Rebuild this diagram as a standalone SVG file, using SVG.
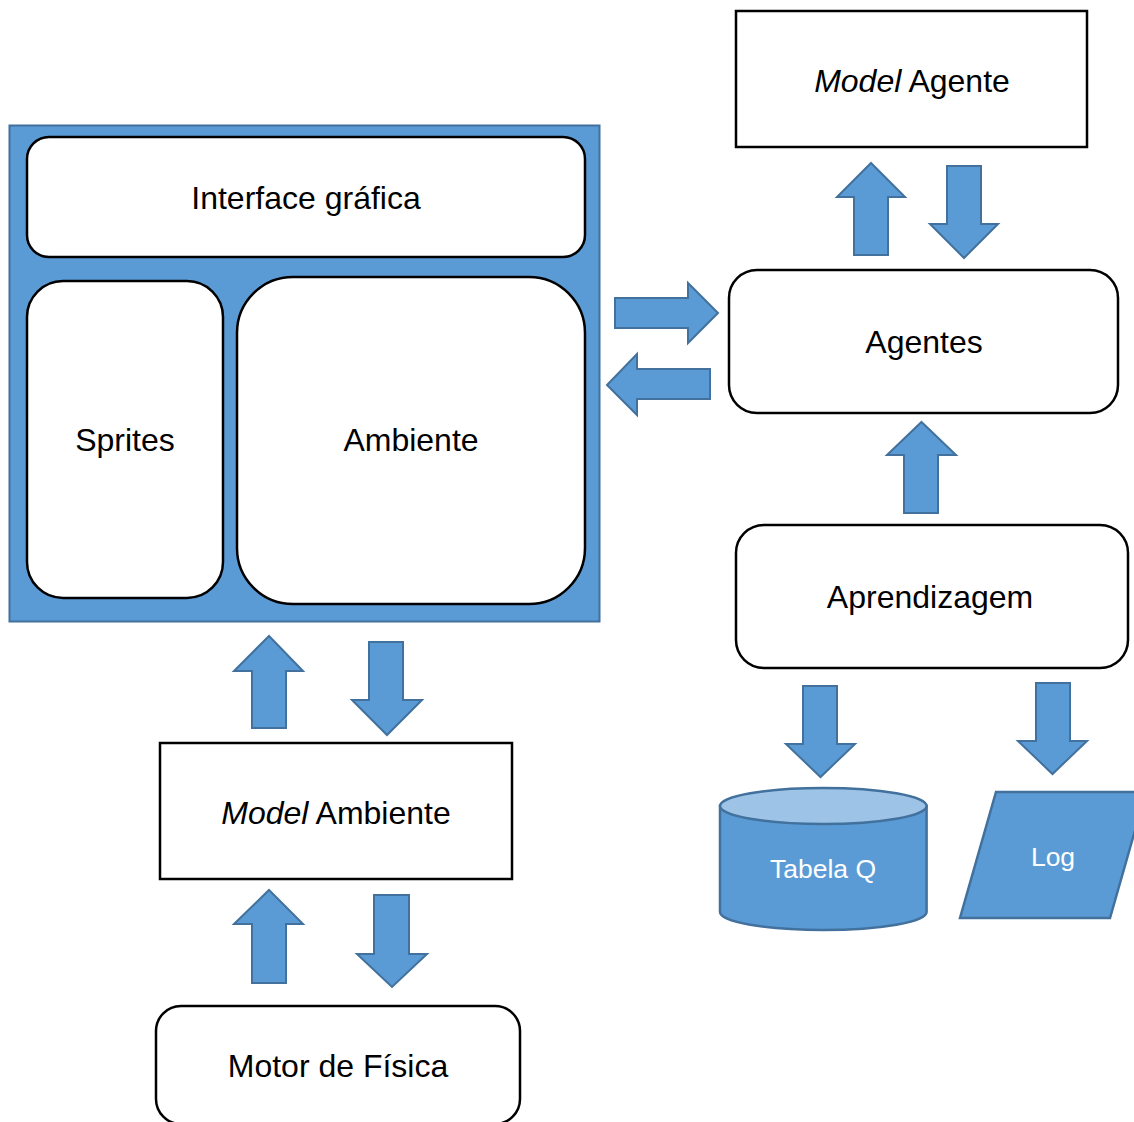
<svg xmlns="http://www.w3.org/2000/svg" width="1134" height="1122" viewBox="0 0 1134 1122">
<style>
.box{fill:#fff;stroke:#000;stroke-width:2.5}
.lbl{font-family:"Liberation Sans",Arial,sans-serif;font-size:32px;fill:#000;text-anchor:middle}
.wl{font-family:"Liberation Sans",Arial,sans-serif;font-size:26.5px;fill:#fff;text-anchor:middle}
.arr{fill:#5B9BD5;stroke:#41719C;stroke-width:2;stroke-linejoin:miter}
.shp{fill:#5B9BD5;stroke:#41719C;stroke-width:2.5}
</style>
<rect width="1134" height="1122" fill="#fff"/>
<g id="container">
<rect x="9.5" y="125.5" width="590" height="496" fill="#5B9BD5" stroke="#41719C" stroke-width="2"/>
</g>
<g id="interface">
<rect class="box" x="27" y="137" width="558" height="120" rx="22"/>
<text class="lbl" x="306" y="209">Interface gráfica</text>
</g>
<g id="sprites">
<rect class="box" x="27" y="281" width="196" height="317" rx="36"/>
<text class="lbl" x="125" y="451">Sprites</text>
</g>
<g id="ambiente">
<rect class="box" x="237" y="277" width="348" height="327" rx="56"/>
<text class="lbl" x="411" y="451">Ambiente</text>
</g>
<g id="model-agente">
<rect class="box" x="736" y="11" width="351" height="136"/>
<text class="lbl" x="912" y="92"><tspan font-style="italic">Model</tspan> Agente</text>
</g>
<g id="agentes">
<rect class="box" x="729" y="270" width="389" height="143" rx="28"/>
<text class="lbl" x="924" y="353">Agentes</text>
</g>
<g id="aprendizagem">
<rect class="box" x="736" y="525" width="392" height="143" rx="28"/>
<text class="lbl" x="930" y="608">Aprendizagem</text>
</g>
<g id="model-ambiente">
<rect class="box" x="160" y="743" width="352" height="136"/>
<text class="lbl" x="336" y="824"><tspan font-style="italic">Model</tspan> Ambiente</text>
</g>
<g id="motor">
<rect class="box" x="156" y="1006" width="364" height="118" rx="25"/>
<text class="lbl" x="338" y="1077">Motor de Física</text>
</g>
<g id="tabela-q">
<path class="shp" d="M720,806 L720,912 A103.3,18 0 0 0 926.6,912 L926.6,806 Z"/>
<ellipse cx="823.3" cy="806" rx="103.3" ry="18" fill="#9DC3E6" stroke="#41719C" stroke-width="2.5"/>
<text class="wl" x="823" y="877.5">Tabela Q</text>
</g>
<g id="log">
<polygon class="shp" points="996,792 1146,792 1110,918 960,918"/>
<text class="wl" x="1053" y="866">Log</text>
</g>
<g id="connectors">
<polygon class="arr" points="871,163 905,197 888,197 888,255 854,255 854,197 837,197"/>
<polygon class="arr" points="947,166 981,166 981,224 998,224 964,258 930,224 947,224"/>
<polygon class="arr" points="615,298 688,298 688,283 718,313 688,343 688,328 615,328"/>
<polygon class="arr" points="710,369 710,399 637,399 637,415 607,385 637,354 637,369"/>
<polygon class="arr" points="921.5,422 956,455 938,455 938,513 904,513 904,455 887,455"/>
<polygon class="arr" points="803,686 837,686 837,744 855,744 820.5,777 786,744 803,744"/>
<polygon class="arr" points="1036,683 1070,683 1070,741 1087,741 1052.5,774 1018,741 1036,741"/>
<polygon class="arr" points="269,636 303,671 286,671 286,728 252,728 252,671 234,671"/>
<polygon class="arr" points="369,642 403,642 403,700 422,700 387,735 352,700 369,700"/>
<polygon class="arr" points="269,890 303,924 286,924 286,983 252,983 252,924 234,924"/>
<polygon class="arr" points="374,895 409,895 409,954 427,954 392,987 357,954 374,954"/>
</g>
</svg>
